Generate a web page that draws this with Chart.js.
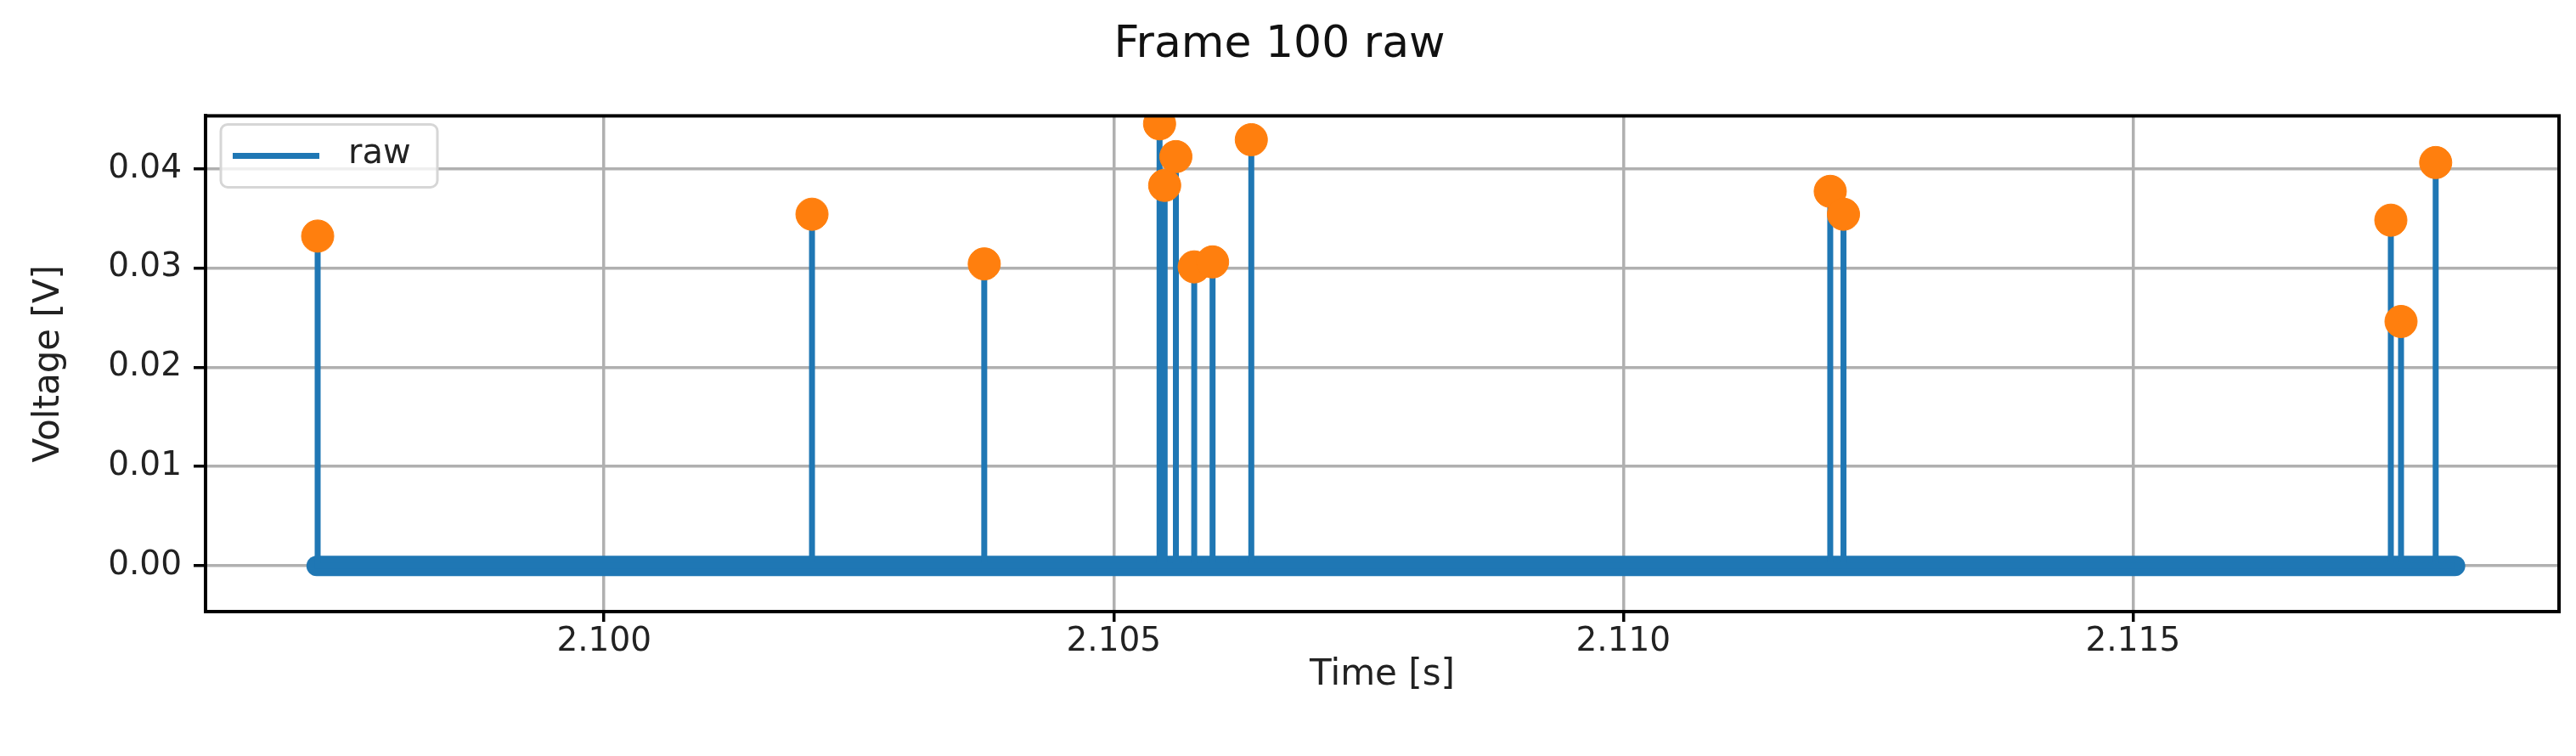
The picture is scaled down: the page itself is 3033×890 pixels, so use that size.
<!DOCTYPE html>
<html>
<head>
<meta charset="utf-8">
<script src="https://cdn.jsdelivr.net/npm/chart.js@4.4.0/dist/chart.umd.min.js"></script>
<style>
  html, body { margin: 0; padding: 0; background: #fff; }
  #wrap { width: 3033px; height: 890px; }
</style>
</head>
<body>
<div id="wrap"><canvas id="c" width="3033" height="890"></canvas></div>
<script>
// Peak times [s] and voltages [V]
const peakTimes = [2.09719, 2.10204, 2.10373, 2.10545, 2.10550, 2.10561, 2.10579, 2.10597, 2.10635, 2.11203, 2.11216, 2.11753, 2.11763, 2.11797];
const peakVolts = [0.0332, 0.0354, 0.0304, 0.0445, 0.0383, 0.0412, 0.0301, 0.0306, 0.0429, 0.0377, 0.0354, 0.0348, 0.0246, 0.0406];
const traceStart = 2.09718;
const traceEnd = 2.11816;
const xTicks = [2.100, 2.105, 2.110, 2.115];
const yTicks = [0.00, 0.01, 0.02, 0.03, 0.04];

const blue = '#1f77b4';
const orange = '#ff7f0e';

// raw trace: baseline with vertical spikes at each peak
const rawPoints = [{x: traceStart, y: 0}];
peakTimes
  .map((t, i) => ({t: t, v: peakVolts[i]}))
  .sort((a, b) => a.t - b.t)
  .forEach(p => {
    rawPoints.push({x: p.t, y: 0}, {x: p.t, y: p.v}, {x: p.t, y: 0});
  });
rawPoints.push({x: traceEnd, y: 0});

const peakPoints = peakTimes.map((t, i) => ({x: t, y: peakVolts[i]}));

/**
 * Full axes frame plus legend box inside the plot, matplotlib style
 */
const frameAndLegend = {
  id: 'frameAndLegend',
  afterDraw(chart) {
    const ctx = chart.ctx;
    const a = chart.chartArea;
    ctx.save();
    ctx.strokeStyle = '#000';
    ctx.lineWidth = 4;
    ctx.strokeRect(a.left, a.top, a.right - a.left, a.bottom - a.top);

    const x = a.left + 18, y = a.top + 10, w = 255, h = 74;
    ctx.fillStyle = 'rgba(255,255,255,0.8)';
    ctx.strokeStyle = '#d6d6d6';
    ctx.lineWidth = 3;
    ctx.beginPath();
    ctx.roundRect(x, y, w, h, 8);
    ctx.fill();
    ctx.stroke();
    ctx.strokeStyle = blue;
    ctx.lineWidth = 7;
    ctx.beginPath();
    ctx.moveTo(x + 14, y + h / 2);
    ctx.lineTo(x + 116, y + h / 2);
    ctx.stroke();
    ctx.fillStyle = '#222';
    ctx.font = "40px 'DejaVu Sans'";
    ctx.textBaseline = 'middle';
    ctx.fillText('raw', x + 150, y + h / 2 - 2);
    ctx.restore();
  }
};

const font = { family: "'DejaVu Sans'", size: 39 };
const titleFont = { family: "'DejaVu Sans'", size: 42 };

new Chart(document.getElementById('c'), {
  type: 'line',
  data: {
    datasets: [
      {
        label: 'peaks',
        type: 'scatter',
        data: peakPoints,
        backgroundColor: orange,
        borderColor: orange,
        pointRadius: 19,
        order: 0
      },
      {
        label: 'raw',
        data: rawPoints,
        borderColor: blue,
        borderWidth: 7,
        pointRadius: 0,
        tension: 0,
        order: 1
      },
      {
        label: 'noise band',
        data: [{x: traceStart, y: 0}, {x: traceEnd, y: 0}],
        borderColor: blue,
        borderWidth: 24,
        borderCapStyle: 'round',
        pointRadius: 0,
        order: 2
      }
    ]
  },
  options: {
    responsive: false,
    animation: false,
    devicePixelRatio: 1,
    layout: { padding: { top: 0, right: 20, left: 0, bottom: 20 } },
    plugins: {
      legend: { display: false },
      tooltip: { enabled: false },
      title: {
        display: true,
        text: 'Frame 100 raw',
        color: '#111',
        font: { family: "'DejaVu Sans'", size: 52, weight: 'normal' },
        padding: { top: 22, bottom: 52 }
      }
    },
    scales: {
      x: {
        type: 'linear',
        min: 2.09609,
        max: 2.11918,
        afterBuildTicks: s => { s.ticks = xTicks.map(v => ({value: v})); },
        ticks: {
          color: '#222',
          font: font,
          padding: 0,
          maxRotation: 0,
          callback: v => v.toFixed(3)
        },
        grid: { color: '#b0b0b0', lineWidth: 3.5, tickColor: '#000', tickLength: 12 },
        border: { color: '#000', width: 4 },
        title: { display: true, text: 'Time [s]', color: '#222', font: titleFont, padding: { top: 4, bottom: 50 } },
        afterFit: s => { s.height = 150; }
      },
      y: {
        min: -0.0046,
        max: 0.0453,
        afterBuildTicks: s => { s.ticks = yTicks.map(v => ({value: v})); },
        ticks: {
          color: '#222',
          font: font,
          padding: 14,
          callback: v => v.toFixed(2)
        },
        grid: { color: '#b0b0b0', lineWidth: 3.5, tickColor: '#000', tickLength: 14 },
        border: { color: '#000', width: 4 },
        title: { display: true, text: 'Voltage [V]', color: '#222', font: titleFont, padding: { top: 33, bottom: 8 } },
        afterFit: s => { s.width = 242; }
      }
    }
  },
  plugins: [frameAndLegend]
});
</script>
</body>
</html>
